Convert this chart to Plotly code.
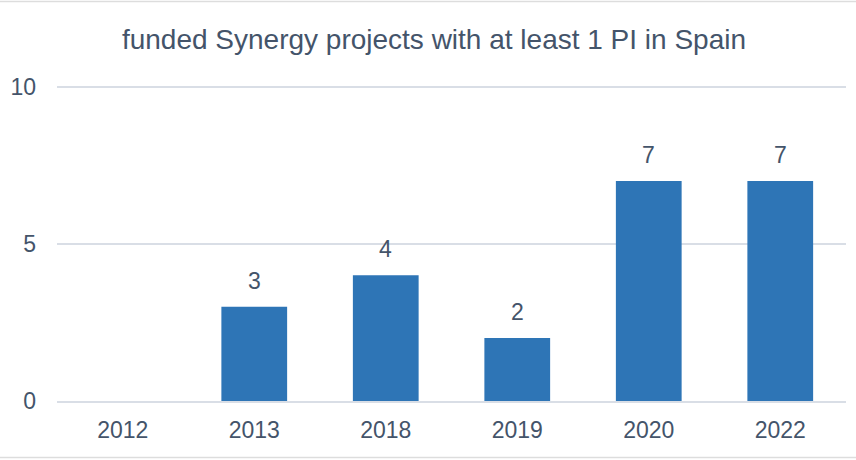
import plotly.graph_objects as go

years = ["2012", "2013", "2018", "2019", "2020", "2022"]
projects = [0, 3, 4, 2, 7, 7]
y_ticks = [0, 5, 10]

W, H = 856, 460
ML, MR, MT, MB = 57, 10, 85, 59
TXT = "#44546A"
FONT = "Liberation Sans, Arial, sans-serif"

fig = go.Figure()
fig.add_trace(go.Bar(
    x=years, y=projects,
    marker=dict(color="#2E75B6", line=dict(width=0)),
    hoverinfo="x+y",
))

# value labels above bars (x given as category index)
for i, v in enumerate(projects):
    if v > 0:
        fig.add_annotation(x=i, y=v, text=str(v), showarrow=False,
                           yanchor="bottom", yshift=11,
                           font=dict(size=23, color=TXT, family=FONT))

ph = H - MT - MB
pw = W - ML - MR
# outer frame lines (top and bottom of the chart container)
for ypx in [1.5, 457.5]:
    yy = (H - MB - ypx) / ph
    fig.add_shape(type="line", xref="paper", yref="paper",
                  x0=-ML / pw, x1=(pw + MR) / pw, y0=yy, y1=yy,
                  line=dict(color="#DDDDDD", width=1.5))

fig.update_layout(
    width=W, height=H,
    margin=dict(l=ML, r=MR, t=MT, b=MB, autoexpand=False),
    paper_bgcolor="white", plot_bgcolor="white",
    bargap=0.5,
    showlegend=False,
    font=dict(family=FONT, color=TXT, size=23),
    title=dict(text="funded Synergy projects with at least 1 PI in Spain",
               x=0.507, xanchor="center", xref="container",
               y=1 - 39 / H, yanchor="middle", yref="container",
               font=dict(size=28, color=TXT, family=FONT)),
    xaxis=dict(type="category", range=[-0.5, len(years) - 0.5],
               showgrid=False, showline=True,
               linecolor="#D9DEE6", linewidth=2, automargin=False,
               ticks="", tickfont=dict(size=23, color=TXT),
               ticklabelstandoff=7),
    yaxis=dict(range=[0, 10.05], tickvals=y_ticks, showgrid=True,
               gridcolor="#D9DEE6", gridwidth=2, zeroline=False,
               automargin=False,
               showline=False, ticks="", tickfont=dict(size=23, color=TXT),
               ticklabelstandoff=20),
)

fig.write_html("out.html", config={"displayModeBar": False},
               post_script="document.body.style.margin='0';document.body.style.overflow='hidden';")
